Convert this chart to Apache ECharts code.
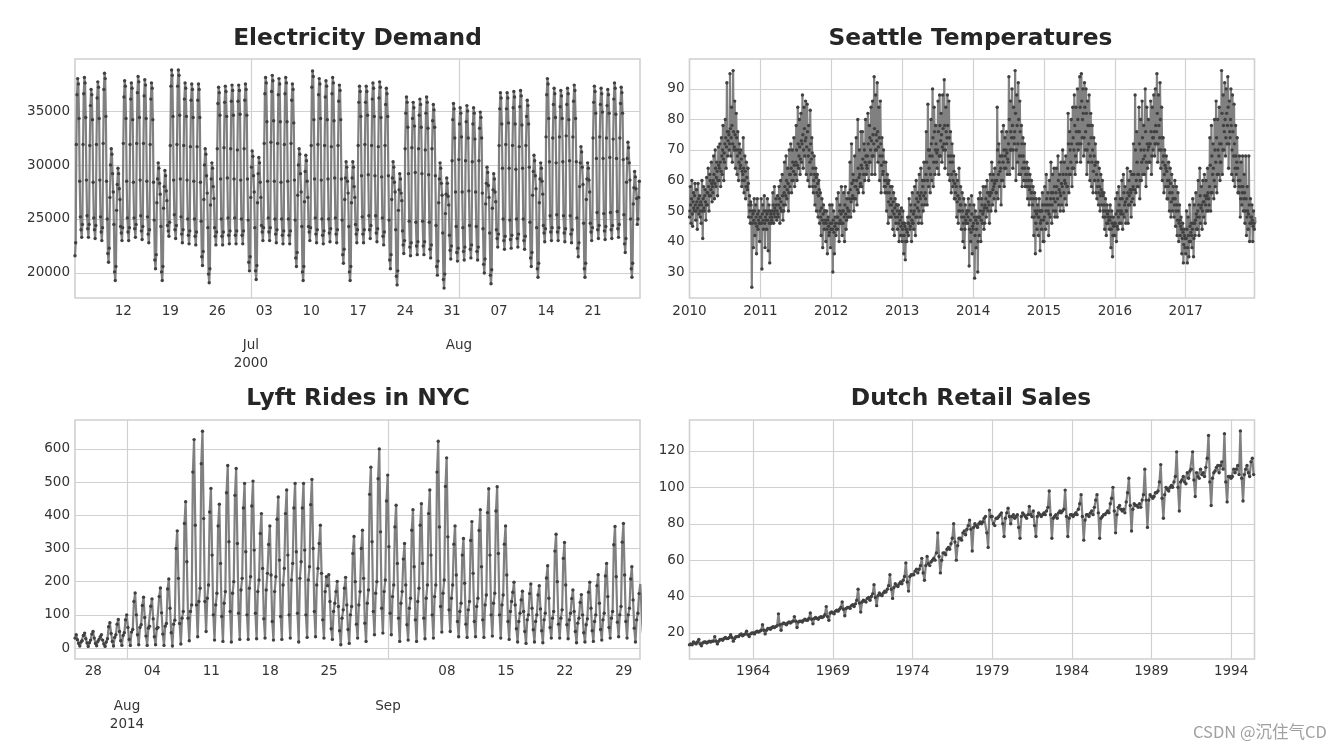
<!doctype html>
<html>
<head>
<meta charset="utf-8">
<style>
  html, body { margin: 0; padding: 0; background: #fff; }
  #main { width: 1344px; height: 751px; }
</style>
</head>
<body>
<div id="main"></div>
<script src="https://cdn.jsdelivr.net/npm/echarts@6/dist/echarts.min.js"></script>
<script>
// electricity demand, ten readings a day, days counted from 1 Jul 2000
var demandStart = -26.2;
var demandPerDay = 10;
var demandValues = [
  21600,22800,31900,36500,38000,37500,34300,28500,25200,24000,
  23300,24500,31900,36600,38100,37600,34400,28600,25300,24100,
  23300,24500,31800,35500,37000,36500,34200,28400,25100,24000,
  23200,24400,31900,36200,37700,37200,34300,28600,25200,23800,
  23000,24200,32000,37000,38500,38000,34500,28500,25000,21800,
  21000,22300,27000,30000,31500,31000,29200,27500,24500,20100,
  19300,20600,25800,28200,29700,29200,27800,26800,24300,23700,

  23000,24200,32000,36300,37800,37300,34300,28500,25100,23800,
  23000,24200,31900,36100,37600,37100,34200,28400,25100,24100,
  23300,24500,32000,36700,38200,37700,34400,28600,25300,23900,
  23100,24300,32000,36400,37900,37400,34300,28500,25200,23600,
  22800,24000,31900,36100,37600,37100,34200,28400,24900,21200,
  20400,21700,26500,28700,30200,29700,28300,27300,24300,20100,
  19300,20600,26000,28000,29500,29000,27600,26700,24400,23900,

  23400,24700,31800,37300,38800,38300,34500,28600,25400,24000,
  23200,24400,31900,37300,38800,38300,34600,28700,25200,23600,
  22800,24000,31800,36100,37600,37100,34500,28600,25000,23500,
  22700,23900,31700,36000,37500,37000,34400,28500,25000,23400,
  22600,23800,31700,36000,37500,37000,34400,28400,24800,21500,
  20700,22000,26800,30000,31500,31000,29000,27400,24200,19900,
  19100,20400,26300,28700,30200,29700,28000,26900,24200,23400,

  22600,23800,31500,35700,37200,36700,34600,28700,25000,23400,
  22600,23800,31600,35800,37300,36800,34500,28800,25100,23500,
  22700,23900,31500,35900,37400,36900,34600,28700,25100,23500,
  22700,23900,31400,35900,37400,36900,34700,28600,25000,23500,
  22700,23900,31500,36000,37500,37000,34600,28700,24900,21000,
  20200,21500,27000,29800,31300,30800,29000,27500,24200,20200,
  19400,20700,26500,29200,30700,30200,28400,27000,24400,23800,

  23000,24200,32000,36600,38100,37600,34000,28500,25100,23800,
  23000,24200,32100,36800,38300,37800,34100,28500,25000,23600,
  22800,24000,32000,36500,38000,37500,34000,28400,25000,23500,
  22700,23900,31900,36600,38100,37600,34000,28500,25000,23500,
  22700,23900,32000,36000,37500,37000,33900,28600,24900,21400,
  20600,21900,27200,30000,31500,31000,29200,27500,24300,20100,
  19300,20600,26600,29400,30900,30400,28500,27000,24300,23800,

  23000,24200,31800,37200,38700,38200,34200,28700,25100,23600,
  22800,24000,31900,36500,38000,37500,34300,28600,25000,23500,
  22700,23900,31800,36300,37800,37300,34200,28700,25000,23700,
  22900,24100,31700,36600,38100,37600,34100,28800,25100,23600,
  22800,24000,31800,35900,37400,36900,34200,28700,24900,21700,
  20900,22200,26800,28800,30300,29800,28500,27400,24300,20100,
  19300,20600,26500,28800,30300,29800,28000,27000,24500,23600,

  22800,24000,31800,35800,37300,36800,34500,29000,25200,23600,
  22800,24000,31900,35800,37300,36800,34600,29100,25300,24000,
  23200,24400,31800,36100,37600,37100,34500,29000,25300,23700,
  22900,24100,31700,36200,37700,37200,34400,28900,25100,23400,
  22600,23800,31800,35600,37100,36600,34500,29000,24900,21200,
  20400,21700,26800,28800,30300,29800,28400,27500,24000,19700,
  18900,20200,25800,27700,29200,28700,27400,26700,23900,22600,

  21800,23000,31500,34800,36300,35800,33500,29200,24800,22400,
  21600,22800,31600,34300,35800,35300,33600,29300,24700,22500,
  21700,22900,31500,34600,36100,35600,33500,29200,24800,22500,
  21700,22900,31400,34800,36300,35800,33400,29100,24700,22200,
  21400,22600,31500,34100,35600,35100,33500,29000,24400,20600,
  19800,21100,26500,28700,30200,29700,28300,27200,23700,19400,
  18600,19900,25500,27300,28800,28300,27100,26300,23500,22100,

  21300,22500,30400,34200,35700,35200,32500,27500,24300,21900,
  21100,22300,30500,33800,35300,34800,32600,27500,24200,22000,
  21200,22400,30400,34000,35500,35000,32500,27600,24400,22200,
  21400,22600,30300,33800,35300,34800,32400,27500,24300,22000,
  21200,22400,30400,33400,34900,34400,32500,27400,24100,20800,
  20000,21300,26400,28300,29800,29300,28100,27000,23700,19800,
  19000,20300,26000,27700,29200,28700,27500,26600,24000,23200,

  22400,23600,31800,35200,36700,36200,33800,29700,25000,23000,
  22200,23400,31900,35200,36700,36200,33900,29700,24900,23100,
  22300,23500,31800,35300,36800,36300,33800,29600,25000,23200,
  22400,23600,31700,35400,36900,36400,33700,29700,25000,23000,
  22200,23400,31800,34500,36000,35500,33800,29800,24700,21400,
  20600,21900,27200,29400,30900,30400,29000,27800,24200,20400,
  19600,20900,26500,28700,30200,29700,28500,27300,24400,23700,

  22900,24100,32600,36500,38000,37500,34300,30300,25300,23800,
  23000,24200,32500,35600,37100,36600,34400,30200,25400,23800,
  23000,24200,32600,35400,36900,36400,34300,30300,25300,23700,
  22900,24100,32700,35600,37100,36600,34200,30400,25300,23600,
  22800,24000,32600,35900,37400,36900,34300,30300,25100,22300,
  21500,22800,28000,30200,31700,31200,29800,28200,24600,20400,
  19600,20900,26800,28700,30200,29700,28600,27500,24600,23800,

  23000,24200,32500,35800,37300,36800,34800,30600,25600,24000,
  23200,24400,32600,35600,37100,36600,34900,30600,25500,23900,
  23100,24300,32500,35500,37000,36500,34800,30700,25600,24000,
  23200,24400,32400,36100,37600,37100,34700,30600,25700,24100,
  23300,24500,32500,35700,37200,36700,34800,30500,25400,22700,
  21900,23200,28400,30600,32100,31600,30200,28600,25000,20400,
  19600,20900,26400,27900,29400,28900,27800,26900,24500,25000,
  27000,28500
];
var demandDayTicks = [-19, -12, -5, 2, 9, 16, 23, 30, 37, 44, 51];
var demandDayLabels = ['12', '19', '26', '03', '10', '17', '24', '31', '07', '14', '21'];
var demandMonthTicks = [0, 31];
var demandMonthLabels = ['Jul\n2000', 'Aug'];
var demandYTicks = [20000, 25000, 30000, 35000];

// seattle temperatures, readings four days apart, a list for each year
var tempsPerYear = 91;
var temps2010 = [48,58,46,60,45,56,50,59, 47,57,44,59,49,55,48, 46,60,41,58,50,57,47,61, 52,64,50,62,55,66,53, 56,68,54,70,58,66,55,71, 60,72,58,74,62,78,60, 66,80,64,92,68,76,70,95, 68,84,66,96,70,86,64,82, 62,76,60,72,64,70,58, 60,74,56,68,54,66,58,64, 48,55,46,52,25,50,38,54, 42,52,36,54,44,50,40];
var temps2011 = [46,54,31,52,44,55,38,50, 44,54,37,52,33,50,46, 48,56,46,58,50,54,47,55, 48,58,46,60,50,62,47, 50,66,52,68,54,64,50,70, 58,72,56,70,60,74,58, 62,78,60,84,64,80,62,82, 66,88,64,84,68,86,62,85, 60,78,58,83,62,74,58, 56,68,52,64,50,62,48,60, 46,56,42,54,38,52,44,50, 40,50,36,48,42,52,38];
var temps2012 = [44,52,30,50,36,48,42,54, 44,56,40,52,46,58,42, 46,56,40,58,44,54,48,56, 50,66,48,72,54,62,50,68, 54,74,52,80,56,70,58,76, 58,76,56,72,60,80,62, 64,82,60,78,66,84,62,86, 68,94,62,88,70,92,66,84, 60,86,56,74,62,70,58, 56,66,50,62,46,60,48,58, 48,58,44,56,42,54,46,52, 44,52,40,50,42,51,40];
var temps2013 = [42,50,36,46,34,44,40,48, 42,54,44,52,40,56,46, 44,58,42,60,48,56,46,62, 48,64,46,60,50,66,52, 54,76,52,85,58,70,56,80, 60,90,58,84,62,78,66, 64,86,62,88,68,82,66,88, 70,93,64,84,72,88,62,86, 60,76,56,72,58,68,54, 54,62,48,60,46,64,50,58, 44,56,40,54,38,52,46,50, 46,54,32,52,40,55,36];
var temps2014 = [44,52,28,50,38,48,30,54, 42,56,40,54,46,58,44, 46,58,48,60,50,56,46,62, 50,66,52,62,54,64,50, 56,84,54,72,58,68,52,76, 60,78,58,74,64,76,62, 66,94,62,86,70,90,64,84, 72,96,60,88,66,92,62,86, 62,78,58,74,60,72,58, 58,66,54,64,52,62,54,60, 48,58,42,56,36,54,44,52, 42,54,37,50,44,56,40];
var temps2015 = [40,58,44,62,46,56,42,60, 48,66,46,62,50,64,48, 50,64,48,68,52,62,50,66, 52,70,50,66,54,68,52, 58,82,56,76,62,80,58,84, 64,88,62,84,66,90,70, 72,94,66,95,74,90,68,92, 70,90,62,86,66,88,60,82, 58,78,56,74,60,72,56, 54,66,52,64,50,62,52,60, 48,56,44,54,42,52,46,50, 44,52,38,50,35,48,42];
var temps2016 = [42,54,40,56,44,58,46,54, 46,60,44,62,48,58,46, 50,64,46,60,52,63,48,62, 54,72,52,88,56,76,58, 58,84,54,80,60,86,62,78, 62,90,58,84,64,80,66, 66,86,62,84,70,88,68,90, 72,95,66,88,70,92,64,84, 60,74,56,70,58,68,54, 54,66,50,64,48,62,50,58, 48,60,45,58,42,56,40,52, 42,48,36,46,33,44,38];
var temps2017 = [36,50,33,48,35,52,40,46, 38,54,35,52,42,56,44, 44,60,42,64,46,58,44,60, 48,62,46,60,50,64,50, 52,74,50,78,56,72,54,80, 58,86,56,80,62,84,60, 66,96,62,88,70,92,68,90, 72,94,64,86,74,90,62,88, 60,85,58,78,62,74,56, 56,68,48,66,52,68,50,62, 46,68,42,58,44,68,40,54, 46,52,40,50,44,48];

// the readings that fall between the ones above, inside the main band
var between2010 = [50,52,54,49,53,51,55,52, 50,53,51,54,52,50,53, 52,50,54,51,55,53,52,56, 56,58,55,60,57,59,58, 60,62,59,64,61,63,60,65, 64,66,63,68,70,67,69, 72,74,71,76,73,75,72,77, 74,78,72,76,71,75,70,74, 68,70,66,69,65,67,63, 62,64,60,63,58,61,57,59, 52,50,53,48,46,49,47,50, 46,48,45,49,47,46,48];
var between2011 = [48,46,49,47,50,46,48,47, 49,47,50,46,48,49,47, 50,52,49,51,48,52,50,49, 52,54,51,53,50,55,52, 56,58,55,60,57,59,56,62, 62,64,60,66,63,65,62, 66,70,65,72,68,71,67,73, 72,75,70,77,73,74,71,76, 68,70,66,72,67,69,64, 60,62,58,61,56,59,55,57, 50,48,51,47,49,46,50,47, 46,44,47,45,43,46,44];
var between2012 = [46,44,47,43,45,46,44,48, 48,46,50,47,49,46,50, 50,48,52,49,47,51,50,48, 54,57,53,59,55,60,54,58, 58,60,57,64,61,62,59,65, 64,67,62,70,66,68,65, 68,72,66,74,70,73,68,75, 72,77,70,75,73,76,71,74, 68,72,65,68,63,66,60, 58,60,56,59,53,56,52,54, 52,50,53,49,51,48,52,50, 48,46,49,47,45,48,46];
var between2013 = [44,46,42,45,40,44,43,46, 46,48,45,50,47,46,49, 50,52,48,54,51,53,50,55, 54,56,52,58,55,60,56, 62,66,60,70,64,68,62,72, 68,74,66,76,70,72,69, 70,76,68,78,73,75,71,77, 72,78,70,76,74,78,68,74, 66,68,62,66,60,63,59, 56,58,53,55,50,54,52,52, 48,50,46,48,44,47,49,50, 48,50,44,47,43,49,45];
var between2014 = [46,48,42,47,44,46,40,48, 48,50,47,52,49,50,51, 52,54,51,56,53,52,55,56, 56,60,57,58,59,60,56, 60,70,62,66,63,64,60,68, 66,70,64,68,70,69,67, 72,80,70,76,74,78,70,74, 76,82,70,78,72,80,68,76, 68,72,64,68,66,64,62, 60,62,58,60,57,58,56,56, 52,54,48,50,46,49,50,48, 48,50,46,47,50,52,47];
var between2015 = [48,52,50,54,52,50,49,52, 54,56,52,56,54,58,53, 56,58,54,60,57,56,55,59, 58,62,56,60,59,62,58, 64,72,62,70,66,72,64,74, 70,78,68,76,72,80,76, 76,84,72,86,80,82,74,84, 76,82,70,78,72,78,68,74, 66,70,63,68,65,66,62, 58,60,56,58,55,57,56,55, 50,52,48,50,46,49,48,47, 47,48,44,46,42,45,46];
var between2016 = [46,49,45,50,48,52,50,49, 50,54,49,56,52,53,50, 54,56,52,55,57,56,53,57, 58,62,57,70,60,66,62, 62,72,60,70,66,74,67,70, 68,76,66,72,70,71,72, 72,76,68,74,74,76,72,78, 76,82,72,78,74,80,70,74, 66,68,62,65,64,63,60, 58,60,56,59,53,56,54,54, 52,54,50,52,47,50,46,47, 45,44,41,43,39,42,41];
var between2017 = [41,44,38,42,40,45,43,42, 44,46,41,46,47,49,48, 50,52,48,55,51,52,50,53, 53,55,52,54,55,56,54, 58,65,56,68,62,64,60,70, 66,74,62,70,68,72,66, 72,82,70,78,76,80,74,82, 78,84,72,76,80,78,70,76, 68,72,64,68,66,64,60, 58,60,54,58,56,58,54,56, 50,54,48,50,49,52,46,48, 48,47,45,46,47,46];

var tempYears = [2010, 2011, 2012, 2013, 2014, 2015, 2016, 2017];
var tempLists = [temps2010, temps2011, temps2012, temps2013, temps2014, temps2015, temps2016, temps2017];
var betweenLists = [between2010, between2011, between2012, between2013, between2014, between2015, between2016, between2017];
var tempYTicks = [30, 40, 50, 60, 70, 80, 90];

// lyft rides, seven readings a day, days counted from 1 Aug 2014
var ridesStart = -6.18;
var ridesPerDay = 7;
var ridesValues = [
  30,40,25,14,6,18,22, 38,45,28,15,5,16,24, 42,50,30,14,7,20,26, 34,40,24,12,5,18,28,
  64,76,44,20,6,32,40, 72,86,50,22,8,38,46, 85,100,62,26,8,48,56, 140,166,100,40,10,62,70,
  128,153,92,36,8,60,66, 126,148,88,34,10,58,62, 155,181,106,42,8,66,74, 178,208,120,46,6,72,84,
  300,353,210,74,12,90,110, 375,441,260,90,22,110,130, 530,628,370,130,34,140,180, 555,653,390,140,50,150,190,
  410,481,280,100,24,130,165, 368,433,255,95,20,135,170, 468,550,320,110,18,165,200, 460,541,315,105,26,175,210,
  422,496,290,100,26,180,215, 428,503,295,105,28,170,205, 345,405,240,88,30,175,225, 312,368,220,80,24,170,215,
  388,455,265,95,26,190,240, 405,476,280,100,30,205,255, 422,496,290,105,18,210,260, 422,496,295,100,32,205,245,
  432,508,300,110,34,190,240, 315,370,225,85,30,170,215, 188,221,140,58,26,110,135, 170,201,125,52,10,90,115,
  180,213,130,56,14,100,125, 285,336,200,72,30,130,170, 300,355,210,75,20,135,175,
  463,545,320,110,40,165,200, 510,600,350,120,45,170,205, 443,521,305,105,40,155,190, 365,430,255,90,20,135,170,
  268,315,190,70,24,120,150, 355,417,245,85,20,140,180, 370,435,255,90,28,150,190, 405,476,280,100,30,155,190,
  530,623,365,125,48,165,205, 487,573,335,115,50,150,190, 313,368,220,80,34,110,135, 280,330,195,72,32,115,140,
  324,381,225,80,34,125,150, 354,417,245,85,32,130,160, 408,480,280,100,36,135,165, 413,486,285,100,30,130,160,
  313,368,220,80,26,110,140, 168,198,130,58,18,80,105, 145,171,110,50,14,85,100, 164,193,120,55,18,80,100,
  160,188,118,52,16,85,105, 211,248,150,62,30,90,110, 292,343,200,72,30,90,115, 270,318,190,70,28,85,105,
  149,175,110,50,16,75,90, 137,161,100,46,18,70,88, 168,198,120,52,20,80,100, 188,221,135,56,24,85,105,
  217,255,155,62,30,90,110, 311,366,215,78,34,100,125, 319,375,220,80,30,100,120, 208,245,145,60,18,85,105,
  164,193,120,54,16,90,110, 183,215,130,90
];
var ridesDayTicks = [-4, 3, 10, 17, 24, 38, 45, 52, 59];
var ridesDayLabels = ['28', '04', '11', '18', '25', '08', '15', '22', '29'];
var ridesMonthTicks = [0, 31];
var ridesMonthLabels = ['Aug\n2014', 'Sep'];
var ridesYTicks = [0, 100, 200, 300, 400, 500, 600];

// dutch retail sales, monthly from January 1960
var salesStart = 1960;
var salesValues = [
  13.5,14,13.5,15,14.5,14,15,16.5,14,13,14.5,15,
  15,14.5,15,15.5,15,15.5,15.5,18,15.5,14,15.5,16.5,
  16.5,16,17,17.5,17,17,17.5,19,17.5,15.5,17,18,
  18,18,19,19.5,18.5,19,19.5,21,19,18,19.5,20,
  20,19.5,20.5,21,20.5,21,21.5,24.5,21.5,19.5,21.5,22.5,
  22.5,22,23,23.5,23,23.5,24,30.5,24.5,21.5,25,25.5,
  25,24.5,25.5,26,25.5,26,26.5,29,26.5,23,26,26.5,
  26.5,26,27,27.5,27,27,28,31,27.5,25,28,28.5,
  28,27.5,28.5,29,28.5,29,30,34.5,29,27,31,31.5,
  31,30.5,32,32.5,32,33,34,37,33,29.5,33.5,34,
  34,33.5,35,35.5,34.5,36,38,44,36.5,31.5,37,38,
  37.5,37,39,39.5,38,40,41.5,46.5,39.5,35,40.5,42,
  41,40.5,42,43,42.5,44,46,52,44,39,45,47,
  46,45.5,47,48,47,49,51,58.5,48,43,51,52,
  52,52,54,55,53,55,57,61,53,49,57,62,
  58,57,59,60,61,60,64,75,62,53,60,64,
  64,63,66,67,66,69,72,80,70,60,68,72,
  72,71,75,76,74,77,79,82,77,65,78,80,
  79,78,80,81,80,81,83,84,75,67,87.5,84,
  84,80,79,83,83,84,85,86,80,73,83,86,
  88.5,84,80,84,85,83,84,85,78,72,84,86,
  85,84,83,85,89.5,85,84,87,79,73,84,86,
  85,84,85,86,85,87,89,98,85,72,83,84,
  85,83,86,87,86,87,88,98.5,84,73,83,85,
  85,84,85,86,85,88,91,96,84,71,82,85,
  85,84,86,87,85,89,93,96,86,72,83,84,
  85,85,86,87,86,91,94,100,87,75,85,89,
  90,88,87,88,86,92,97,105,90,76,88,91,
  90,90,89,91,89,93,96,110,93,78,93,96,
  95,94,95,97,97,98,103,112.5,94,83,96,100,
  99,98,100,101,100,103,106,119.5,100,87,103,104,
  106,103,102,108,105,109,110,119.5,104,95,108,106,
  105,110,107,108,106,111,116,128.5,103,90,105,108,
  109,111,112,108,112,114,110,129.5,103,92,106,106,
  105,106,110,108,110,112,107,131,105,92.5,107,110,
  112,108,106,114,116,107
];
var salesYearTicks = [1964, 1969, 1974, 1979, 1984, 1989, 1994];
var salesYTicks = [20, 40, 60, 80, 100, 120];

var textColor = '#333';
var gridColor = '#d0d0d0';

function toPoints(list, start, perUnit) {
  var pts = [];
  for (var i = 0; i < list.length; i++) {
    pts.push([start + i / perUnit, list[i]]);
  }
  return pts;
}

var tempPoints = [];
for (var y = 0; y < tempYears.length; y++) {
  for (var d = 0; d < tempLists[y].length; d++) {
    tempPoints.push([tempYears[y] + d / tempsPerYear, tempLists[y][d]]);
    tempPoints.push([tempYears[y] + (d + 0.5) / tempsPerYear, betweenLists[y][d]]);
  }
}

function panel(left, top) {
  return { show: true, left: left, top: top, width: 565, height: 239, backgroundColor: '#fff', borderColor: gridColor, borderWidth: 1.6 };
}

function lookupLabel(ticks, labels) {
  return function (v) {
    var i = ticks.indexOf(v);
    return i < 0 ? '' : labels[i];
  };
}

function xAxisOf(gridIndex, min, max, ticks, labels, margin, showGrid) {
  return {
    type: 'value', gridIndex: gridIndex, position: 'bottom', min: min, max: max, scale: true,
    axisLine: { show: false },
    axisTick: { show: false, customValues: ticks },
    splitLine: { show: showGrid, lineStyle: { color: gridColor, width: 1.2 } },
    axisLabel: {
      customValues: ticks, margin: margin, color: textColor, fontSize: 13.5, lineHeight: 18,
      fontFamily: 'DejaVu Sans', hideOverlap: false, showMinLabel: true, showMaxLabel: true,
      formatter: labels ? lookupLabel(ticks, labels) : function (v) { return String(v); }
    }
  };
}

function yAxisOf(gridIndex, min, max, ticks) {
  return {
    type: 'value', gridIndex: gridIndex, min: min, max: max, scale: true,
    axisLine: { show: false },
    axisTick: { show: false, customValues: ticks },
    splitLine: { show: true, lineStyle: { color: gridColor, width: 1.2 } },
    axisLabel: {
      customValues: ticks, margin: 5, color: textColor, fontSize: 13.5, fontFamily: 'DejaVu Sans',
      padding: [2, 0, 0, 0],
      formatter: function (v) { return String(v); }
    }
  };
}

function lineOf(name, xIndex, yIndex, points) {
  return {
    name: name, type: 'line', xAxisIndex: xIndex, yAxisIndex: yIndex,
    data: points, showSymbol: true, showAllSymbol: true, symbol: 'circle', symbolSize: 3.4,
    itemStyle: { color: '#404040' }, lineStyle: { color: '#808080', width: 2.2 },
    silent: true, animation: false
  };
}

function titleOf(text, x, y) {
  return {
    text: text, left: x, top: y, textAlign: 'center',
    textStyle: { color: '#262626', fontSize: 23.3, fontWeight: 'bold', fontFamily: 'DejaVu Sans' }
  };
}

var option = {
  backgroundColor: '#fff',
  animation: false,
  title: [
    titleOf('Electricity Demand', 352.5, 22),
    titleOf('Seattle Temperatures', 965.5, 22),
    titleOf('Lyft Rides in NYC', 353, 382),
    titleOf('Dutch Retail Sales', 966, 382)
  ],
  grid: [panel(75, 59), panel(689.5, 59), panel(75, 420), panel(689.5, 420)],
  xAxis: [
    xAxisOf(0, -26.2, 58, demandDayTicks, demandDayLabels, 4, false),
    xAxisOf(0, -26.2, 58, demandMonthTicks, demandMonthLabels, 38.5, true),
    xAxisOf(1, 2010, 2017.97, tempYears, null, 4, true),
    xAxisOf(2, -6.18, 60.93, ridesDayTicks, ridesDayLabels, 3.5, false),
    xAxisOf(2, -6.18, 60.93, ridesMonthTicks, ridesMonthLabels, 38.5, true),
    xAxisOf(3, 1960, 1995.47, salesYearTicks, null, 3.5, true)
  ],
  yAxis: [
    yAxisOf(0, 17685, 39815, demandYTicks),
    yAxisOf(1, 21.5, 99.8, tempYTicks),
    yAxisOf(2, -33, 687, ridesYTicks),
    yAxisOf(3, 5.7, 137, salesYTicks)
  ],
  series: [
    lineOf('Electricity Demand', 0, 0, toPoints(demandValues, demandStart, demandPerDay)),
    lineOf('Seattle Temperatures', 2, 1, tempPoints),
    lineOf('Lyft Rides in NYC', 3, 2, toPoints(ridesValues, ridesStart, ridesPerDay)),
    lineOf('Dutch Retail Sales', 5, 3, toPoints(salesValues, salesStart, 12))
  ],
  graphic: [{
    type: 'text', left: 1193, top: 723, silent: true,
    style: { text: 'CSDN @沉住气CD', fill: '#a0a0a0', font: '16.5px "Noto Sans CJK SC", "Noto Sans"' }
  }]
};

var myChart = echarts.init(document.getElementById('main'), null, { renderer: 'canvas' });
myChart.setOption(option);
</script>
</body>
</html>
